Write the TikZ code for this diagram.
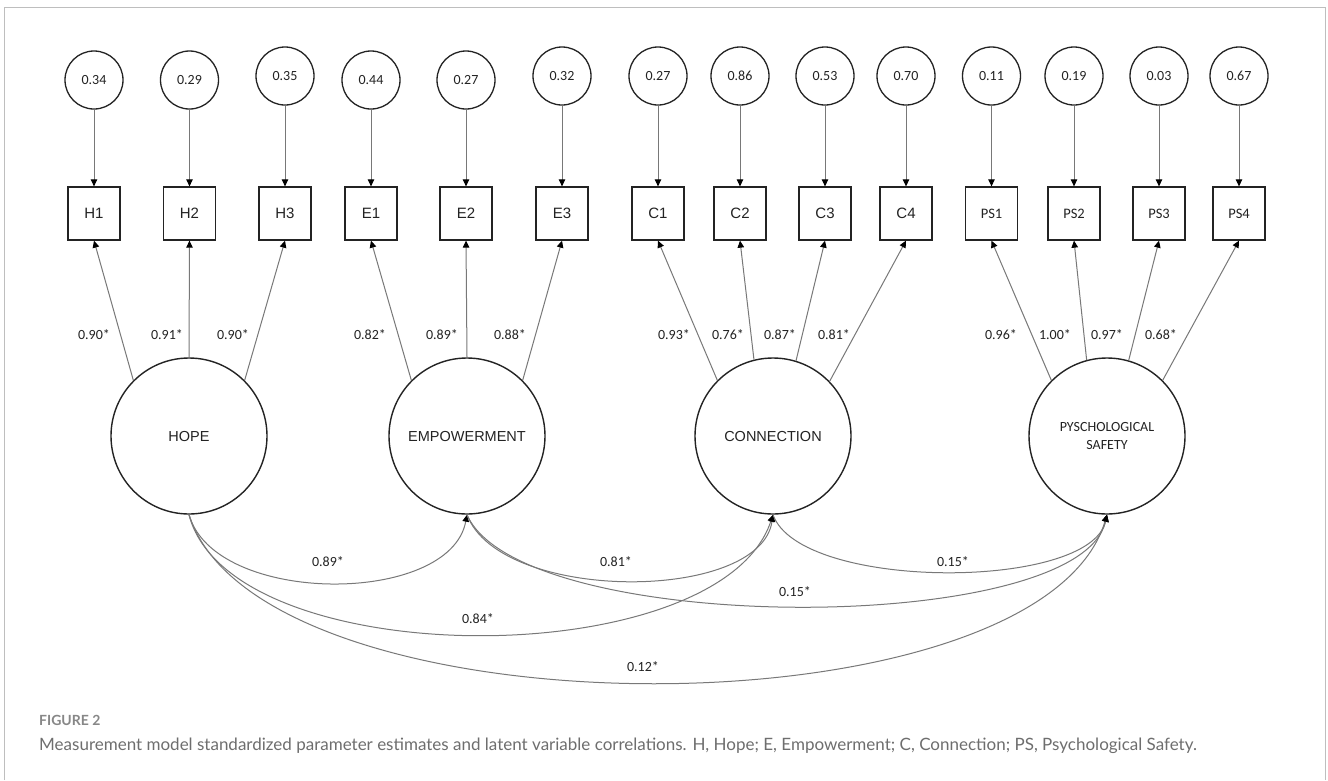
\documentclass[tikz,border=0pt]{standalone}
\usepackage{fontspec}
\setmainfont{Liberation Sans}
\newfontfamily\numfont{Carlito}
\newfontfamily\capfont{Lato}
\usetikzlibrary{arrows.meta}
\definecolor{lnc}{RGB}{120,120,120}
\definecolor{shc}{RGB}{35,35,35}
\definecolor{frc}{RGB}{190,190,190}
\definecolor{capc}{RGB}{110,110,110}
\definecolor{figc}{RGB}{135,135,135}
\begin{document}
\begin{tikzpicture}[x=1pt,y=-1pt,
 errc/.style={circle,draw=shc,line width=1.3pt,minimum size=58pt,inner sep=0pt,font=\numfont\fontsize{14}{16}\selectfont,text=shc},
 obsbox/.style={rectangle,draw=shc,line width=1.3pt,minimum width=52pt,minimum height=53pt,inner sep=0pt,font=\fontsize{15}{17}\selectfont,text=shc},
 latc/.style={circle,draw=shc,line width=1.4pt,minimum size=156pt,inner sep=0pt,font=\fontsize{14.5}{17}\selectfont,text=shc,align=center},
 lbl/.style={font=\numfont\fontsize{14}{16}\selectfont,text=shc,inner sep=0pt},
 conn/.style={draw=lnc,line width=1pt,-{Triangle[width=6.5pt,length=7pt,color=black]}},
]
\useasboundingbox (0,0) rectangle (1328,780);
\fill[white] (0,0) rectangle (1328,780);
\draw[frc,line width=1pt] (4,780) -- (4,7) -- (1325,7) -- (1325,780);

% observed indicators
\foreach \n/\t/\x in {h1/H1/94,h2/H2/189.5,h3/H3/285,e1/E1/371,e2/E2/466,e3/E3/562,c1/C1/658,c2/C2/740,c3/C3/825,c4/C4/906}
  \node[obsbox] (\n) at (\x,213.5) {\t};
\foreach \n/\t/\x in {p1/PS1/991.5,p2/PS2/1074,p3/PS3/1159,p4/PS4/1239}
  \node[obsbox,font=\numfont\fontsize{14.5}{16}\selectfont] (\n) at (\x,213.5) {\t};

% error terms
\foreach \n/\v/\x/\y in {h1/0.34/94/80,h2/0.29/189.5/80,h3/0.35/285/76,e1/0.44/371/80,e2/0.27/466/80,e3/0.32/562/76,c1/0.27/658/76,c2/0.86/740/76,c3/0.53/825/76,c4/0.70/906/76,p1/0.11/991.5/76,p2/0.19/1074/76,p3/0.03/1159/76,p4/0.67/1239/76}
  {\node[errc] (u\n) at (\x,\y) {\v};
   \draw[conn] (u\n) -- (\n.north);}

% latent variables
\node[latc] (hope) at (189,436) {HOPE};
\node[latc] (emp) at (467,436) {EMPOWERMENT};
\node[latc] (con) at (773,436) {CONNECTION};
\node[latc,font=\numfont\fontsize{14}{18}\selectfont] (psy) at (1107,436) {PYSCHOLOGICAL\\SAFETY};

% loadings
\draw[conn] (hope.135) -- (h1.south);
\draw[conn] (hope.90) -- (h2.south);
\draw[conn] (hope.45) -- (h3.south);
\draw[conn] (emp.135) -- (e1.south);
\draw[conn] (emp.90) -- (e2.south);
\draw[conn] (emp.45) -- (e3.south);
\draw[conn] (con.135) -- (c1.south);
\draw[conn] (con.104) -- (c2.south);
\draw[conn] (con.73) -- (c3.south);
\draw[conn] (con.44) -- (c4.south);
\draw[conn] (psy.135) -- (p1.south);
\draw[conn] (psy.105) -- (p2.south);
\draw[conn] (psy.74) -- (p3.south);
\draw[conn] (psy.45) -- (p4.south);

\foreach \v/\x [count=\i] in {0.90*/94,0.91*/167,0.90*/233,0.82*/370,0.89*/442,0.88*/510,0.93*/674,0.76*/728,0.87*/780,0.81*/834,0.96*/1001,1.00*/1055,0.97*/1107,0.68*/1161}
  \node[lbl] (ld\i) at (\x,335) {\v};

% correlations
\draw[conn] (hope.south) .. controls (215,606) and (450,606) .. (emp.south);
\draw[conn] (hope.south) .. controls (230,675) and (720,675) .. (con.south);
\draw[conn] (hope.south) .. controls (260,739) and (1040,739) .. (psy.south);
\draw[conn] (emp.south) .. controls (500,603) and (760,603) .. (con.south);
\draw[conn] (emp.south) .. controls (520,637) and (1080,637) .. (psy.south);
\draw[conn] (con.south) .. controls (800,591) and (1090,591) .. (psy.south);

\node[lbl] (r1) at (328,562) {0.89*};
\node[lbl] (r2) at (478,619) {0.84*};
\node[lbl] (r3) at (643,667) {0.12*};
\node[lbl] (r4) at (616,562) {0.81*};
\node[lbl] (r5) at (795,592) {0.15*};
\node[lbl] (r6) at (953,562) {0.15*};

% caption
\node[anchor=base west,inner sep=0pt,font=\capfont\bfseries\fontsize{14}{16}\selectfont,text=figc] (fig) at (39,725) {FIGURE 2};
\node[anchor=base west,inner sep=0pt,font=\capfont\fontsize{17}{20}\selectfont,text=capc] (cap) at (39,750) {Measurement model standardized parameter estimates and latent variable correlations. H, Hope; E, Empowerment; C, Connection; PS, Psychological Safety.};
\end{tikzpicture}
\end{document}
